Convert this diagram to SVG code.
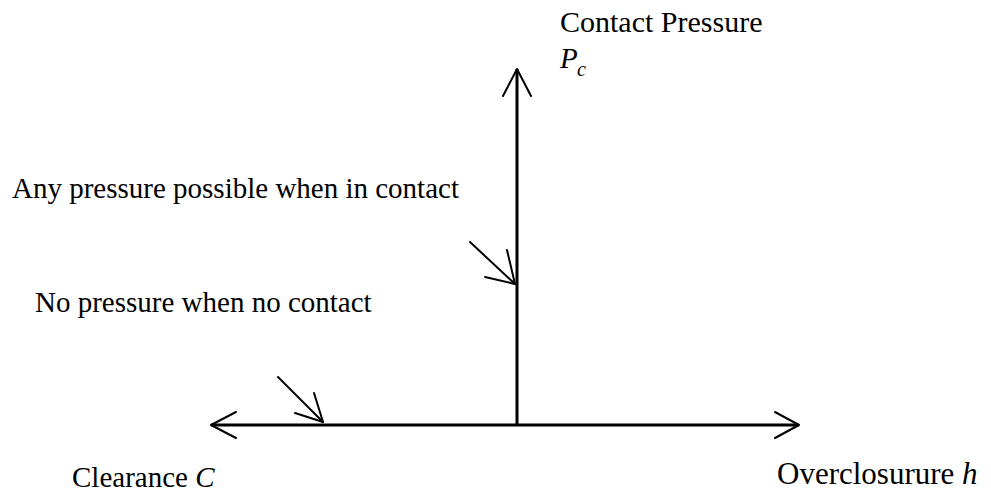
<svg xmlns="http://www.w3.org/2000/svg" width="991" height="497" viewBox="0 0 991 497">
<style>
.t{font-family:"Liberation Serif","Times New Roman",serif;font-size:29px;fill:#000}
.i{font-style:italic}
.ax{stroke:#000;stroke-width:3;fill:none}
.ln{stroke:#000;stroke-width:2;fill:none;stroke-linecap:round;stroke-linejoin:round}
</style>
<rect width="991" height="497" fill="#fff"/>
<g id="connectors">
<line class="ax" x1="517" y1="69" x2="517" y2="425"/>
<line class="ax" x1="211" y1="425" x2="799" y2="425"/>
<polyline class="ln" points="503,96 517,69 531,96"/>
<polyline class="ln" points="236,412 211,425 236,438"/>
<polyline class="ln" points="775,412 799,425 775,438"/>
<line class="ln" x1="470" y1="242" x2="515" y2="284"/>
<polyline class="ln" points="485,277 515,284 507,250"/>
<line class="ln" x1="278" y1="377" x2="323" y2="422"/>
<polyline class="ln" points="295,413 323,422 314,393"/>
</g>
<g id="yLabel"><text class="t" x="560" y="32" style="font-size:30px">Contact Pressure</text><text class="t i" x="560" y="68">P</text><text class="t i" x="577" y="76" style="font-size:20px">c</text></g>
<g id="anyPressure"><text class="t" x="12" y="198">Any pressure possible when in contact</text></g>
<g id="noPressure"><text class="t" x="35" y="312">No pressure when no contact</text></g>
<g id="clearance"><text class="t" x="72" y="487">Clearance <tspan class="i">C</tspan></text></g>
<g id="overclosure"><text class="t" x="777" y="484" style="font-size:31px">Overclosurure <tspan class="i">h</tspan></text></g>
</svg>
